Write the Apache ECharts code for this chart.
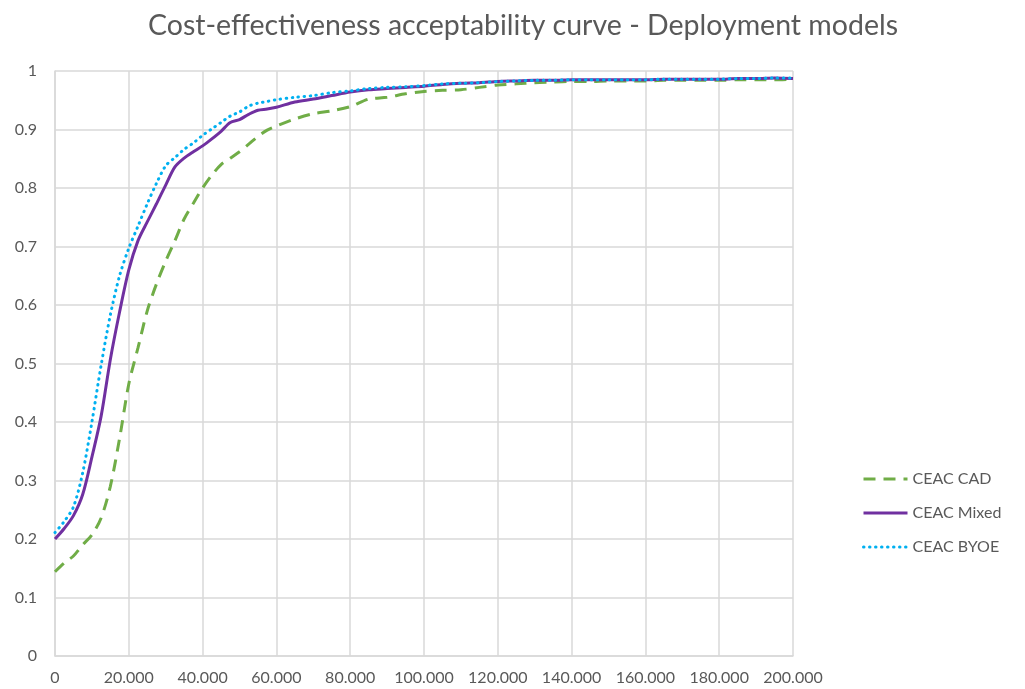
<!DOCTYPE html>
<html><head><meta charset="utf-8">
<script src="https://cdn.jsdelivr.net/npm/echarts@6/dist/echarts.min.js"></script>
<style>html,body{margin:0;padding:0;background:#fff}#c{width:1025px;height:689px}</style>
</head><body><div id="c"></div>
<script>
const xValues = [0,2500,5000,7500,10000,12500,15000,17500,20000,22500,25000,27500,30000,32500,35000,37500,40000,42500,45000,47500,50000,52500,55000,57500,60000,65000,70000,75000,80000,85000,90000,95000,100000,105000,110000,115000,120000,125000,130000,135000,140000,145000,150000,155000,160000,165000,170000,175000,180000,185000,190000,195000,200000];
const ceacCAD = [0.144,0.159,0.171,0.190,0.207,0.236,0.290,0.372,0.465,0.527,0.590,0.636,0.675,0.710,0.747,0.774,0.800,0.822,0.840,0.851,0.862,0.875,0.888,0.899,0.906,0.918,0.927,0.932,0.939,0.952,0.955,0.961,0.965,0.967,0.968,0.972,0.976,0.978,0.980,0.981,0.982,0.982,0.983,0.983,0.983,0.984,0.984,0.984,0.984,0.985,0.985,0.985,0.986];
const ceacMixed = [0.200,0.218,0.240,0.276,0.340,0.410,0.507,0.588,0.660,0.710,0.742,0.773,0.805,0.836,0.851,0.862,0.872,0.884,0.897,0.912,0.917,0.926,0.933,0.935,0.938,0.947,0.952,0.958,0.964,0.968,0.970,0.972,0.974,0.977,0.979,0.980,0.982,0.983,0.984,0.984,0.985,0.985,0.985,0.985,0.985,0.986,0.986,0.986,0.986,0.987,0.987,0.988,0.987];
const ceacBYOE = [0.211,0.230,0.255,0.313,0.400,0.497,0.583,0.650,0.697,0.735,0.773,0.808,0.838,0.852,0.866,0.877,0.890,0.901,0.912,0.923,0.930,0.940,0.945,0.948,0.951,0.955,0.958,0.963,0.966,0.970,0.972,0.973,0.975,0.978,0.979,0.980,0.982,0.983,0.984,0.984,0.985,0.985,0.985,0.985,0.985,0.986,0.986,0.986,0.986,0.987,0.987,0.988,0.988];
const seriesNames = ['CEAC CAD','CEAC Mixed','CEAC BYOE'];
const titleText = 'Cost-effectiveness acceptability curve - Deployment models';

const pair = ys => xValues.map((x,i)=>[x, ys[i]]);
const font = 'Lato, "Open Sans", sans-serif';
const chart = echarts.init(document.getElementById('c'));
chart.setOption({
  animation:false,
  backgroundColor:'#fff',
  title:{text:titleText,left:143,top:6,textStyle:{fontFamily:font,fontSize:28.5,fontWeight:'normal',color:'#595959'}},
  grid:{left:55,right:232,top:71,bottom:33,containLabel:false},
  legend:{orient:'vertical',left:857,top:466,itemWidth:44,itemHeight:14,itemGap:18,
    itemStyle:{opacity:0},lineStyle:{width:3},
    textStyle:{fontFamily:font,fontSize:16,color:'#595959'},data:seriesNames},
  xAxis:{type:'value',min:0,max:200000,interval:20000,
    axisLine:{show:true,lineStyle:{color:'#d9d9d9',width:1.5}},axisTick:{show:false},
    splitLine:{show:true,lineStyle:{color:'#d9d9d9',width:1.5}},
    axisLabel:{margin:14,fontFamily:font,fontSize:16,color:'#595959',
      formatter:v=>v===0?'0':String(v).replace(/\B(?=(\d{3})+(?!\d))/g,'.')}},
  yAxis:{type:'value',min:0,max:1,interval:0.1,
    axisLine:{show:true,lineStyle:{color:'#d9d9d9',width:1.5}},axisTick:{show:false},
    splitLine:{show:true,lineStyle:{color:'#d9d9d9',width:1.5}},
    axisLabel:{margin:18,fontFamily:font,fontSize:16,color:'#595959',
      formatter:v=>String(Math.round(v*10)/10)}},
  series:[
    {name:seriesNames[0],type:'line',data:pair(ceacCAD),showSymbol:false,symbol:'none',smooth:0.3,
      lineStyle:{color:'#70AD47',width:3,type:[12,8]},itemStyle:{color:'#70AD47'}},
    {name:seriesNames[1],type:'line',data:pair(ceacMixed),showSymbol:false,symbol:'none',smooth:0.3,
      lineStyle:{color:'#7030A0',width:3},itemStyle:{color:'#7030A0'}},
    {name:seriesNames[2],type:'line',data:pair(ceacBYOE),showSymbol:false,symbol:'none',smooth:0.3,
      lineStyle:{color:'#00B0F0',width:3,type:[0.5,5.5],cap:'round'},itemStyle:{color:'#00B0F0'}}
  ]
});
</script></body></html>
